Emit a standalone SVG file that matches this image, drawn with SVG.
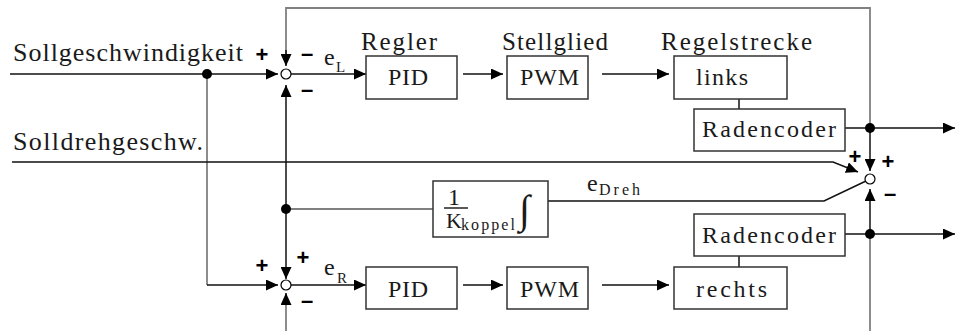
<svg xmlns="http://www.w3.org/2000/svg" width="955" height="331" viewBox="0 0 955 331" font-family="Liberation Serif, serif">
<defs>
<style>
.bx{fill:#fff;stroke:#333;stroke-width:1.5}
.ln{fill:none;stroke:#111;stroke-width:1.5}
.gl{fill:none;stroke:#808080;stroke-width:1.8}
.ar{marker-end:url(#ah)}
.dot{fill:#000}
.sj{fill:#fff;stroke:#000;stroke-width:1.2}
.t{font-family:'Liberation Serif',serif;fill:#1a1a1a}
.sg{font-family:'Liberation Sans',Arial,sans-serif;font-weight:bold;font-size:22px;fill:#000;text-anchor:middle}
</style>
<marker id="ah" markerUnits="userSpaceOnUse" markerWidth="12" markerHeight="11" refX="12" refY="5.5" orient="auto">
<path d="M0,0 L12,5.5 L0,11 z" fill="#000"/>
</marker>
</defs>
<rect width="955" height="331" fill="#fff"/>

<g id="connectors">
<path class="gl" d="M870,128 V8 H286 V55"/>
<path class="ln ar" d="M286,50 V66"/>
<path class="gl" d="M870,234 V331"/>
<path class="gl" d="M286,331 V303"/>
<path class="ln ar" d="M286,305 V293"/>
<path class="gl" d="M207,74 V285"/>
<path class="gl" d="M286,209 H433"/>
<path class="ln" d="M286,94 V209"/>
<path class="ln ar" d="M286,94 V85"/>
<path class="ln ar" d="M286,209 V279"/>
<path class="ln ar" d="M10,74 H278"/>
<path class="ln ar" d="M207,285 H278"/>
<path class="ln ar" d="M12,162 H833 L858,172"/>
<path class="ln ar" d="M291,74 H366"/>
<path class="ln ar" d="M463,74 H503"/>
<path class="ln ar" d="M602,74 H669"/>
<path class="ln" d="M739,99 V109"/>
<path class="ln ar" d="M845,128 H955"/>
<path class="ln ar" d="M291,285 H366"/>
<path class="ln ar" d="M463,285 H503"/>
<path class="ln ar" d="M602,285 H669"/>
<path class="ln" d="M739,256 V267"/>
<path class="ln ar" d="M845,234 H955"/>
<path class="ln ar" d="M870,128 V171"/>
<path class="ln ar" d="M870,234 V189"/>
<path class="ln" d="M866,181 L824,201 H548"/>
<circle class="dot" cx="207" cy="74" r="5"/>
<circle class="dot" cx="286" cy="209" r="5"/>
<circle class="dot" cx="870" cy="128" r="5"/>
<circle class="dot" cx="870" cy="234" r="5"/>
</g>

<g id="labels">
<text class="t" x="13" y="61" font-size="26" textLength="230">Sollgeschwindigkeit</text>
<text class="t" x="13" y="150" font-size="26" textLength="190">Solldrehgeschw.</text>
<text class="t" x="361" y="50" font-size="25" textLength="76">Regler</text>
<text class="t" x="502" y="50" font-size="25" textLength="106">Stellglied</text>
<text class="t" x="661" y="50" font-size="25" textLength="151">Regelstrecke</text>
<text class="t" x="324" y="65" font-size="24">e</text>
<text class="t" x="336" y="72" font-size="15">L</text>
<text class="t" x="324" y="275" font-size="24">e</text>
<text class="t" x="337" y="283" font-size="15">R</text>
<text class="t" x="587" y="191" font-size="24">e</text>
<text class="t" x="599" y="195" font-size="16" textLength="41">Dreh</text>
</g>

<g id="sum_L">
<circle class="sj" cx="286" cy="74" r="5"/>
<text class="sg" x="262" y="62">+</text>
<text class="sg" x="307" y="61">–</text>
<text class="sg" x="307" y="97">–</text>
</g>
<g id="sum_R">
<circle class="sj" cx="286" cy="285" r="5"/>
<text class="sg" x="262" y="273">+</text>
<text class="sg" x="303" y="265">+</text>
<text class="sg" x="307" y="308">–</text>
</g>
<g id="sum_D">
<circle class="sj" cx="870" cy="179" r="5"/>
<text class="sg" x="855" y="164">+</text>
<text class="sg" x="888" y="169">+</text>
<text class="sg" x="890" y="201">–</text>
</g>

<g id="pid_L">
<rect class="bx" x="366" y="56" width="91" height="43"/>
<text class="t" x="388" y="85" font-size="24" textLength="40">PID</text>
</g>
<g id="pwm_L">
<rect class="bx" x="507" y="56" width="81" height="43"/>
<text class="t" x="520" y="85" font-size="24" textLength="59">PWM</text>
</g>
<g id="links">
<rect class="bx" x="674" y="56" width="113" height="43"/>
<text class="t" x="696" y="85" font-size="24" textLength="52">links</text>
</g>
<g id="enc_L">
<rect class="bx" x="694" y="109" width="151" height="42"/>
<text class="t" x="702" y="137" font-size="24" textLength="134">Radencoder</text>
</g>
<g id="koppel">
<rect class="bx" x="433" y="181" width="115" height="56"/>
<text class="t" x="448" y="205" font-size="24">1</text>
<line x1="444" y1="208" x2="468" y2="208" stroke="#222" stroke-width="1.5"/>
<text class="t" x="446" y="228" font-size="22">K</text>
<text class="t" x="461" y="230" font-size="16" textLength="54">koppel</text>
<text class="t" x="519" y="223" font-size="40">∫</text>
</g>
<g id="enc_R">
<rect class="bx" x="694" y="214" width="151" height="42"/>
<text class="t" x="702" y="243" font-size="24" textLength="134">Radencoder</text>
</g>
<g id="pid_R">
<rect class="bx" x="366" y="267" width="91" height="42"/>
<text class="t" x="388" y="297" font-size="24" textLength="40">PID</text>
</g>
<g id="pwm_R">
<rect class="bx" x="507" y="267" width="81" height="42"/>
<text class="t" x="520" y="297" font-size="24" textLength="59">PWM</text>
</g>
<g id="rechts">
<rect class="bx" x="674" y="267" width="113" height="42"/>
<text class="t" x="696" y="297" font-size="24" textLength="71">rechts</text>
</g>
</svg>
